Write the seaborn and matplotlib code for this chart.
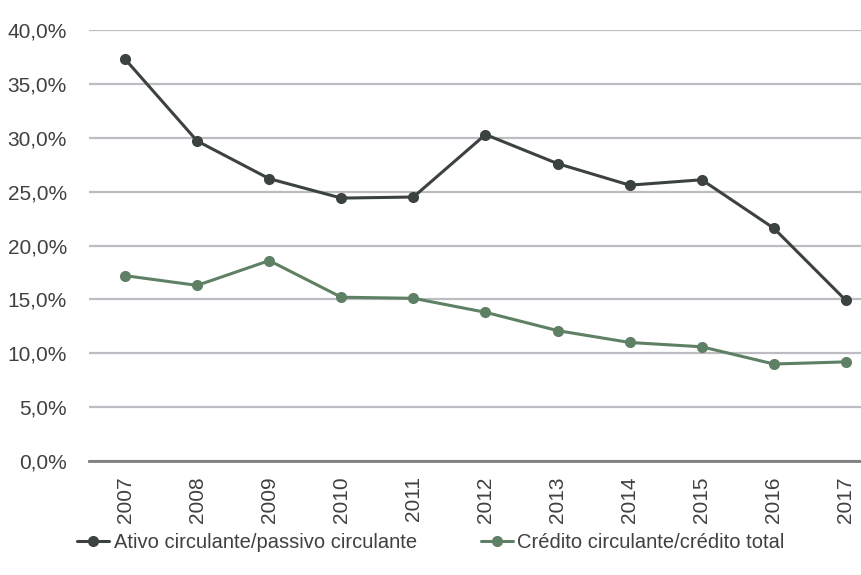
import numpy as np
import pandas as pd
import matplotlib
matplotlib.use("Agg")
import matplotlib.pyplot as plt
import seaborn as sns
from matplotlib.ticker import FuncFormatter

# dados
anos = ["2007", "2008", "2009", "2010", "2011", "2012", "2013", "2014", "2015", "2016", "2017"]
ativo = [37.3, 29.7, 26.2, 24.4, 24.5, 30.3, 27.6, 25.6, 26.1, 21.6, 14.9]
credito = [17.2, 16.3, 18.6, 15.2, 15.1, 13.8, 12.1, 11.0, 10.6, 9.0, 9.2]
nomes = ["Ativo circulante/passivo circulante", "Crédito circulante/crédito total"]
cores = ["#3b4240", "#5e8065"]

df = pd.DataFrame({"ano": anos * 2,
                   "valor": ativo + credito,
                   "serie": [nomes[0]] * len(anos) + [nomes[1]] * len(anos)})

sns.set_style("white")
plt.rcParams["font.family"] = ["Liberation Sans", "DejaVu Sans"]

fig = plt.figure(figsize=(8.62, 5.75), dpi=100)
ax = fig.add_axes([89 / 862, 1 - 461 / 575, (882 - 89) / 862, (461 - 30) / 575])

sns.lineplot(data=df, x="ano", y="valor", hue="serie", palette=cores,
             marker="o", markersize=8, markeredgewidth=0, linewidth=2.2,
             sort=False, ax=ax)

ax.set_xlim(-0.5, len(anos) - 0.5)
ax.set_ylim(0, 40)
ax.set_yticks(np.arange(0, 41, 5))
ax.yaxis.set_major_formatter(FuncFormatter(lambda v, p: f"{v:.1f}%".replace(".", ",")))
ax.grid(axis="y", color="#bdbcc2", linewidth=1.6)
ax.set_axisbelow(True)
for s in ["top", "right", "left"]:
    ax.spines[s].set_visible(False)
ax.spines["bottom"].set_color("#7f7f7f")
ax.spines["bottom"].set_linewidth(2)
ax.tick_params(axis="x", rotation=90, length=0, pad=11, labelsize=15, colors="#404040")
ax.tick_params(axis="y", length=0, pad=16, labelsize=15, colors="#404040")
ax.set_xlabel("")
ax.set_ylabel("")

h, l = ax.get_legend_handles_labels()
ax.legend(h, l, loc="center", bbox_to_anchor=(0.5, 0.057),
          bbox_transform=fig.transFigure, ncol=2, frameon=False, fontsize=14.5,
          handlelength=1.6, handletextpad=0.2, columnspacing=3.2,
          labelcolor="#404040")

fig.savefig("out.png", dpi=100)
